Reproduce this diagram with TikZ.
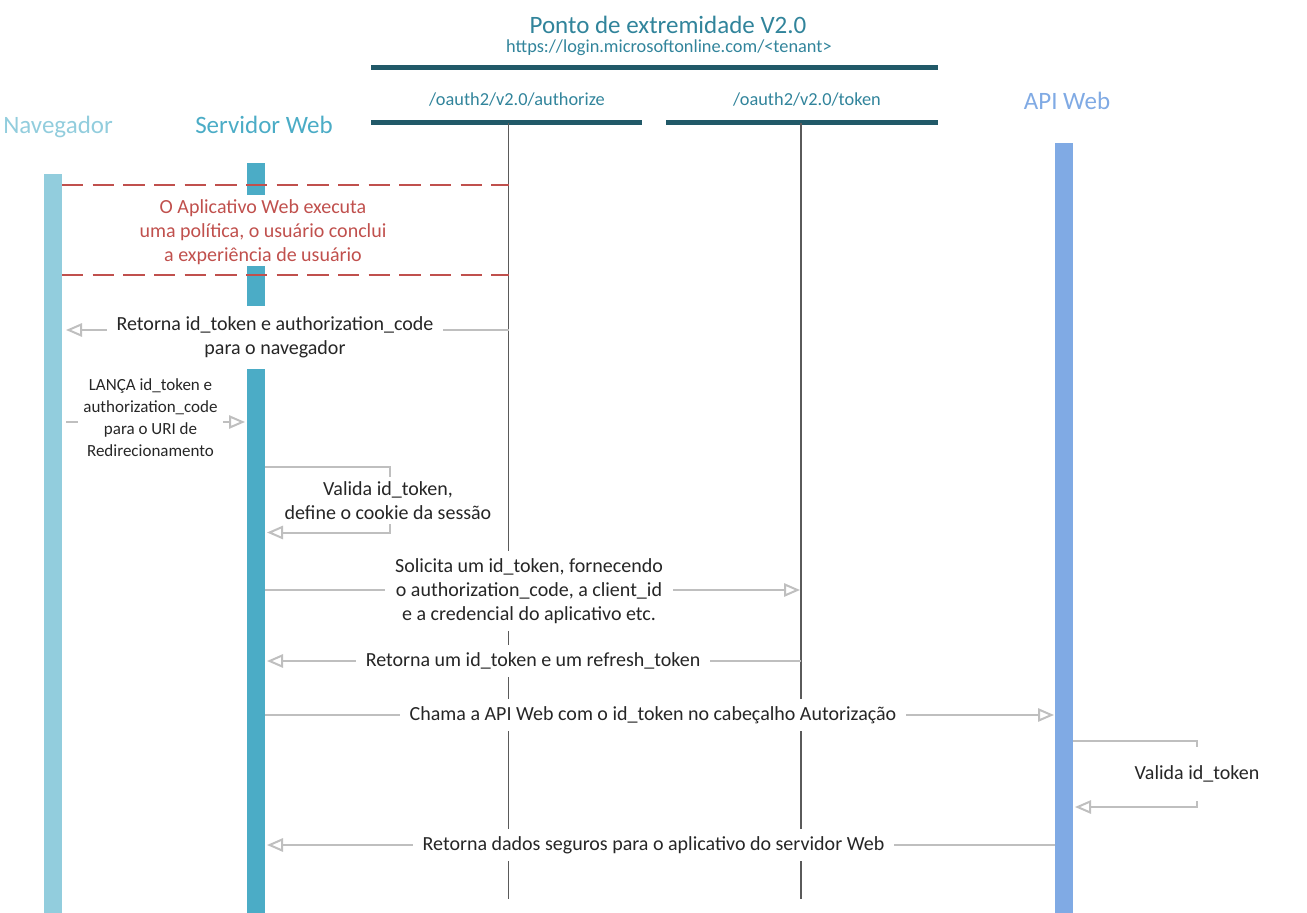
\documentclass[tikz,border=0pt]{standalone}
\usepackage{fontspec}
\setmainfont{Carlito}
\usetikzlibrary{arrows.meta}

\definecolor{navblue}{RGB}{146,205,221}
\definecolor{serverblue}{RGB}{75,172,198}
\definecolor{apiblue}{RGB}{128,170,228}
\definecolor{raildark}{RGB}{33,89,104}
\definecolor{endpointteal}{RGB}{49,132,155}
\definecolor{policyred}{RGB}{192,80,77}
\definecolor{msggray}{RGB}{191,191,191}
\definecolor{lifegray}{RGB}{90,90,90}
\definecolor{textdark}{RGB}{38,38,38}

\begin{document}
\begin{tikzpicture}[x=0.75pt, y=-0.75pt,
    msg/.style={draw=msggray, line width=1.5pt, -{Triangle[open, length=12pt, width=10pt]}},
    msglabel/.style={fill=white, align=center, inner xsep=7.5pt, inner ysep=5.5pt, text=textdark, font=\fontsize{15}{18}\selectfont},
    lifeline/.style={draw=lifegray, line width=1.1pt},
    rail/.style={draw=raildark, line width=3.75pt},
    policyline/.style={draw=policyred, line width=1.5pt, dash pattern=on 16pt off 7pt},
    headlabel/.style={anchor=base, font=\fontsize{18.75}{22}\selectfont}]
    \useasboundingbox (0,0) rectangle (1307,913);

    % Endpoint header
    \node[text=endpointteal, font=\fontsize{18.75}{22}\selectfont] (endpoint) at (668,25) {Ponto de extremidade V2.0};
    \node[text=endpointteal, font=\fontsize{13.75}{16}\selectfont] (endpointurl) at (669,48) {https://login.microsoftonline.com/<tenant>};
    \coordinate (railL) at (371,67.5);
    \coordinate (railR) at (938,67.5);
    \draw[rail] (railL) -- (railR);

    \node[text=endpointteal, font=\fontsize{13.75}{16}\selectfont] (authorize) at (517,100) {/oauth2/v2.0/authorize};
    \node[text=endpointteal, font=\fontsize{13.75}{16}\selectfont] (token) at (807,100) {/oauth2/v2.0/token};
    \coordinate (authrailL) at (371,123);
    \coordinate (authrailR) at (642,123);
    \coordinate (tokenrailL) at (666,123);
    \coordinate (tokenrailR) at (938,123);
    \draw[rail] (authrailL) -- (authrailR);
    \draw[rail] (tokenrailL) -- (tokenrailR);

    % Lifelines of the endpoints
    \coordinate (authtop) at (508.5,123);
    \coordinate (authbot) at (508.5,899);
    \coordinate (tokentop) at (801,123);
    \coordinate (tokenbot) at (801,899);
    \draw[lifeline] (authtop) -- (authbot);
    \draw[lifeline] (tokentop) -- (tokenbot);

    % Participants
    \node[headlabel, text=navblue] (navegador) at (58,134) {Navegador};
    \node[headlabel, text=serverblue] (servidor) at (264,134) {Servidor Web};
    \node[headlabel, text=apiblue] (apiweb) at (1067,110) {API Web};

    \fill[navblue] (44,174) rectangle (62,913);
    \fill[serverblue] (247,163) rectangle (265,195);
    \fill[serverblue] (247,266) rectangle (265,306);
    \fill[serverblue] (247,369) rectangle (265,913);
    \fill[apiblue] (1055,143) rectangle (1073,913);

    % Policy block
    \coordinate (policytopL) at (62,185.5);
    \coordinate (policytopR) at (508.5,185.5);
    \coordinate (policybotL) at (62,275);
    \coordinate (policybotR) at (508.5,275);
    \draw[policyline] (policytopL) -- (policytopR);
    \draw[policyline] (policybotL) -- (policybotR);
    \node[text=policyred, align=center, font=\fontsize{15}{18}\selectfont] (policy) at (263,232) {O Aplicativo Web executa\\uma política, o usuário conclui\\a experiência de usuário};

    % Retorna id_token e authorization_code
    \coordinate (codefrom) at (508.5,330);
    \coordinate (codeto) at (66,330);
    \draw[msg] (codefrom) -- (codeto);
    \node[msglabel] (code) at (275,337) {Retorna id\_token e authorization\_code\\para o navegador};

    % LANÇA
    \coordinate (postfrom) at (66,422);
    \coordinate (postto) at (245,422);
    \draw[msg] (postfrom) -- (postto);
    \node[msglabel, inner xsep=4pt, font=\fontsize{12.75}{16.5}\selectfont] (post) at (150.5,418) {LANÇA id\_token e\\authorization\_code\\para o URI de\\Redirecionamento};

    % Valida id_token (servidor)
    \coordinate (cookiefrom) at (265,466.5);
    \coordinate (cookieturn) at (389.5,500);
    \coordinate (cookieto) at (267,532.5);
    \draw[msg] (cookiefrom) -| (cookieturn) |- (cookieto);
    \node[msglabel, inner ysep=3pt] (cookie) at (388,500.5) {Valida id\_token,\\define o cookie da sessão};

    % Solicita um id_token
    \coordinate (requestfrom) at (265,590);
    \coordinate (requestto) at (800,590);
    \draw[msg] (requestfrom) -- (requestto);
    \node[msglabel] (request) at (529,591) {Solicita um id\_token, fornecendo\\o authorization\_code, a client\_id\\e a credencial do aplicativo etc.};

    % Retorna um id_token e um refresh_token
    \coordinate (refreshfrom) at (801,661);
    \coordinate (refreshto) at (267,661);
    \draw[msg] (refreshfrom) -- (refreshto);
    \node[msglabel] (refresh) at (533,661) {Retorna um id\_token e um refresh\_token};

    % Chama a API Web
    \coordinate (callfrom) at (265,715);
    \coordinate (callto) at (1054,715);
    \draw[msg] (callfrom) -- (callto);
    \node[msglabel] (call) at (653,715) {Chama a API Web com o id\_token no cabeçalho Autorização};

    % Valida id_token (API)
    \coordinate (checkfrom) at (1073,740.5);
    \coordinate (checkturn) at (1197,774);
    \coordinate (checkto) at (1075,807);
    \draw[msg] (checkfrom) -| (checkturn) |- (checkto);
    \node[msglabel, minimum height=40pt] (check) at (1197,774) {Valida id\_token};

    % Retorna dados seguros
    \coordinate (datafrom) at (1055,845);
    \coordinate (datato) at (267,845);
    \draw[msg] (datafrom) -- (datato);
    \node[msglabel] (data) at (653.5,845) {Retorna dados seguros para o aplicativo do servidor Web};
\end{tikzpicture}
\end{document}
